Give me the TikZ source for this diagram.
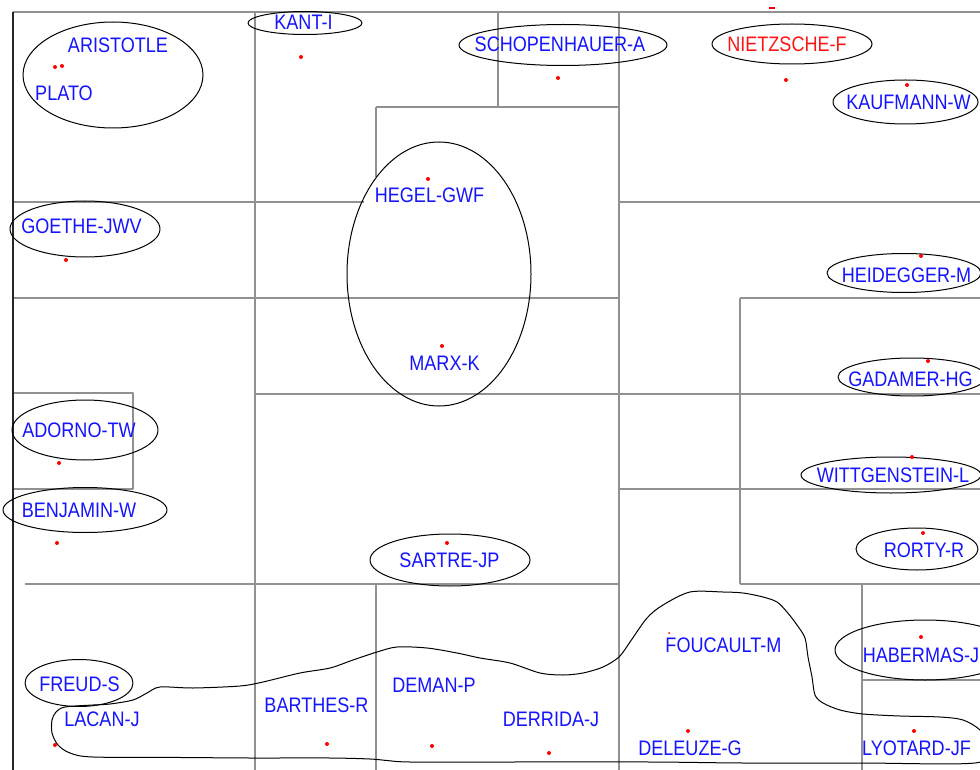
\documentclass[tikz,border=0pt]{standalone}
\usepackage{fontspec}
\setmainfont{Liberation Sans}[FakeStretch=0.86]
\definecolor{gridgray}{RGB}{145,145,145}
\definecolor{lblblue}{RGB}{20,20,255}
\definecolor{lblred}{RGB}{255,20,20}
\begin{document}
\begin{tikzpicture}[x=1pt,y=-1pt,line join=round,
  gridline/.style={draw=gridgray,line width=1.3pt},
  frameline/.style={draw=black!85,line width=1.5pt},
  oval/.style={draw=black,line width=1pt},
  lbl/.style={text=lblblue,font=\fontsize{21}{21}\selectfont,inner sep=0pt,text height=15pt,text depth=0pt},
  redlbl/.style={lbl,text=lblred},
  dotm/.style={circle,fill=red,inner sep=0pt,minimum size=4pt}]
\useasboundingbox (0,0) rectangle (980,770);
\clip (0,0) rectangle (980,770);
\fill[white] (0,0) rectangle (980,770);
% grid
\draw[gridline] (13,12) -- (980,12);
\draw[gridline] (255,12) -- (255,770);
\draw[gridline] (498,12) -- (498,107);
\draw[gridline] (619,12) -- (619,770);
\draw[gridline] (376,107) -- (619,107);
\draw[gridline] (376,107) -- (376,177);
\draw[gridline] (13,202) -- (364,202);
\draw[gridline] (619,202) -- (980,202);
\draw[gridline] (13,298) -- (619,298);
\draw[gridline] (740,298) -- (980,298);
\draw[gridline] (740,298) -- (740,584);
\draw[gridline] (255,394) -- (980,394);
\draw[gridline] (13,393) -- (133,393) -- (133,489) -- (13,489);
\draw[gridline] (619,489) -- (980,489);
\draw[gridline] (25,584) -- (619,584);
\draw[gridline] (740,584) -- (980,584);
\draw[gridline] (376,584) -- (376,770);
\draw[gridline] (862,584) -- (862,770);
\draw[gridline] (862,680) -- (980,680);
\draw[frameline] (13,12) -- (13,770);
% ovals
\draw[oval] (113,75) ellipse [x radius=90pt,y radius=53pt];
\draw[oval] (305,23) ellipse [x radius=57pt,y radius=11.5pt];
\draw[oval] (563,45) ellipse [x radius=104pt,y radius=20.5pt];
\draw[oval] (792,44) ellipse [x radius=80pt,y radius=20pt];
\draw[oval] (905.5,102) ellipse [x radius=72.5pt,y radius=22pt];
\draw[oval] (439,274) ellipse [x radius=92pt,y radius=132pt];
\draw[oval] (85,229) ellipse [x radius=75pt,y radius=28pt];
\draw[oval] (904,273) ellipse [x radius=77pt,y radius=19.5pt];
\draw[oval] (912,377) ellipse [x radius=74pt,y radius=19pt];
\draw[oval] (85,430) ellipse [x radius=73pt,y radius=30pt];
\draw[oval] (891,475) ellipse [x radius=90pt,y radius=18pt];
\draw[oval] (85,510) ellipse [x radius=82pt,y radius=22.5pt];
\draw[oval] (917,549) ellipse [x radius=61pt,y radius=21pt];
\draw[oval] (450,560) ellipse [x radius=80pt,y radius=26pt];
\draw[oval] (79,683) ellipse [x radius=54pt,y radius=23.5pt];
\draw[oval] (925,650) ellipse [x radius=90pt,y radius=30pt];
% big closed curve
\draw[oval] plot[smooth cycle,tension=0.5] coordinates {
 (65,707) (93,705) (110,704) (133,700) (147,693) (160,687) (193,688) (240,686)
 (263,682) (300,673) (330,668) (353,660) (377,652) (397,647) (427,648) (457,653)
 (480,658) (510,663) (540,673) (563,675) (583,673) (603,667) (619,657) (630,642)
 (647,618) (663,605) (690,592) (723,592) (743,593) (763,597) (777,602) (787,612)
 (797,625) (805,638) (808,657) (812,677) (815,695) (823,703) (840,710) (863,714)
 (900,716) (940,717) (963,720) (980,730) (992,748) (975,763) (860,763) (743,763)
 (650,762) (500,762) (410,762) (387,760.5) (370,759) (330,758) (250,758) (182,757.5)
 (93,757) (70,753) (58,745) (52,733) (52,720) (56,712)};
% red marks
\draw[red,line width=1.3pt] (769,8) -- (775,8);
\node[dotm] (d1) at (55,67) {};
\node[dotm] (d2) at (62,66) {};
\node[dotm] (d3) at (301,57) {};
\node[dotm] (d4) at (558,78) {};
\node[dotm] (d5) at (786,80) {};
\node[dotm] (d6) at (907,85) {};
\node[dotm] (d7) at (428,179) {};
\node[dotm] (d8) at (66,260) {};
\node[dotm] (d9) at (921,256) {};
\node[dotm] (d10) at (442,346) {};
\node[dotm] (d11) at (928,361) {};
\node[dotm] (d12) at (59,463) {};
\node[dotm] (d13) at (912,457) {};
\node[dotm] (d14) at (57,543) {};
\node[dotm] (d15) at (923,533) {};
\node[dotm] (d16) at (447,543) {};
\node[dotm] (d17) at (921,637) {};
\node[dotm,minimum size=2pt] (d18) at (669,633) {};
\node[dotm] (d19) at (55,745) {};
\node[dotm] (d20) at (327,744) {};
\node[dotm] (d21) at (432,746) {};
\node[dotm] (d22) at (549,753) {};
\node[dotm] (d23) at (688,731) {};
\node[dotm] (d24) at (914,731) {};
% labels
\node[lbl] (aristotle) at (118,45.5) {ARISTOTLE};
\node[lbl] (plato) at (64,93.5) {PLATO};
\node[lbl] (kant) at (303.5,22.5) {KANT-I};
\node[lbl] (schopenhauer) at (560,44) {SCHOPENHAUER-A};
\node[redlbl] (nietzsche) at (787,44.5) {NIETZSCHE-F};
\node[lbl] (kaufmann) at (908.5,102) {KAUFMANN-W};
\node[lbl] (hegel) at (429.5,195.5) {HEGEL-GWF};
\node[lbl] (goethe) at (81.5,226) {GOETHE-JWV};
\node[lbl] (heidegger) at (906.5,274.5) {HEIDEGGER-M};
\node[lbl] (marx) at (444.5,362.5) {MARX-K};
\node[lbl] (gadamer) at (910.5,379) {GADAMER-HG};
\node[lbl] (adorno) at (79,429.5) {ADORNO-TW};
\node[lbl] (wittgenstein) at (893,475) {WITTGENSTEIN-L};
\node[lbl] (benjamin) at (79,509.5) {BENJAMIN-W};
\node[lbl] (rorty) at (924,550) {RORTY-R};
\node[lbl] (sartre) at (449.5,560) {SARTRE-JP};
\node[lbl] (freud) at (79.5,683.5) {FREUD-S};
\node[lbl] (lacan) at (102,718.5) {LACAN-J};
\node[lbl] (barthes) at (316.5,704.5) {BARTHES-R};
\node[lbl] (deman) at (434,685) {DEMAN-P};
\node[lbl] (derrida) at (551,718.5) {DERRIDA-J};
\node[lbl] (foucault) at (723.5,645) {FOUCAULT-M};
\node[lbl] (habermas) at (921,654.5) {HABERMAS-J};
\node[lbl] (deleuze) at (690,747.5) {DELEUZE-G};
\node[lbl] (lyotard) at (916.5,747.5) {LYOTARD-JF};
\end{tikzpicture}
\end{document}
